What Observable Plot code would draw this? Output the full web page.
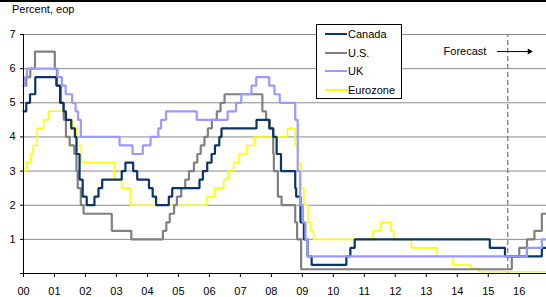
<!DOCTYPE html>
<html><head><meta charset="utf-8">
<script src="https://cdn.jsdelivr.net/npm/d3@7"></script>
<script src="https://cdn.jsdelivr.net/npm/@observablehq/plot@0.6"></script>
<style>
body{margin:0;background:#fff;font-family:"Liberation Sans",Arial,sans-serif;}
#wrap{position:relative;width:546px;height:297px;overflow:hidden;background:#fff;}
#topline{position:absolute;left:0;top:0;width:546px;height:2px;background:#000;}
#unit{position:absolute;left:12px;top:3px;font-size:11px;line-height:13px;color:#000;}
#legend{position:absolute;left:316px;top:24px;width:84px;height:73px;border:1px solid #000;background:#fff;font-size:11px;color:#000;}
#legend .row{position:absolute;left:0;height:18px;line-height:18px;white-space:nowrap;}
#legend .sw{display:inline-block;width:22px;height:0;border-top:2px solid;vertical-align:middle;margin:0 1px 0 8px;position:relative;top:-1px;}
#chart{position:absolute;left:0;top:0;}
</style></head>
<body>
<div id="wrap">
  <div id="chart"></div>
  <div id="topline"></div>
  <div id="unit">Percent, eop</div>
  <div id="legend"></div>
</div>
<script>
// ---- data: policy rates, change dates (decimal years) and levels ----
const canadaDates = [2000.00,2000.09,2000.21,2000.38,2001.06,2001.18,2001.29,2001.37,2001.54,2001.66,2001.71,2001.81,2001.91,2002.04,2002.29,2002.42,2002.54,2003.17,2003.29,2003.54,2003.67,2004.05,2004.17,2004.28,2004.69,2004.80,2005.68,2005.79,2005.93,2006.07,2006.18,2006.32,2006.39,2007.52,2007.93,2008.06,2008.17,2008.31,2008.77,2008.80,2008.94,2009.05,2009.17,2009.30,2010.42,2010.55,2010.69,2015.05,2015.54,2016.73];
const canadaRates = [4.75,5.00,5.25,5.75,5.50,5.00,4.75,4.50,4.25,4.00,3.50,2.75,2.25,2.00,2.25,2.50,2.75,3.00,3.25,3.00,2.75,2.50,2.25,2.00,2.25,2.50,2.75,3.00,3.25,3.50,3.75,4.00,4.25,4.50,4.25,4.00,3.50,3.00,2.50,2.25,1.50,1.00,0.50,0.25,0.50,0.75,1.00,0.75,0.50,0.75];

const usDates = [2000.00,2000.09,2000.22,2000.37,2001.01,2001.08,2001.21,2001.30,2001.37,2001.49,2001.64,2001.71,2001.75,2001.85,2001.94,2002.85,2003.48,2004.50,2004.61,2004.72,2004.86,2004.95,2005.09,2005.22,2005.34,2005.50,2005.61,2005.72,2005.84,2005.95,2006.08,2006.24,2006.36,2006.49,2007.71,2007.83,2007.95,2008.06,2008.08,2008.21,2008.33,2008.77,2008.83,2008.96,2015.76,2016.00,2016.25,2016.49,2016.73];
const usRates = [5.50,5.75,6.00,6.50,6.00,5.50,5.00,4.50,4.00,3.75,3.50,3.00,2.50,2.00,1.75,1.25,1.00,1.25,1.50,1.75,2.00,2.25,2.50,2.75,3.00,3.25,3.50,3.75,4.00,4.25,4.50,4.75,5.00,5.25,4.75,4.50,4.25,3.50,3.00,2.25,2.00,1.50,1.00,0.125,0.50,0.75,1.00,1.25,1.75];

const ukDates = [2000.00,2000.04,2000.11,2001.10,2001.24,2001.36,2001.57,2001.68,2001.76,2001.85,2003.10,2003.52,2003.85,2004.10,2004.35,2004.44,2004.60,2005.59,2006.59,2006.86,2007.03,2007.36,2007.51,2007.93,2008.10,2008.27,2008.77,2008.85,2008.93,2009.02,2009.10,2009.17,2016.25,2016.73];
const ukRates = [5.50,5.75,6.00,5.75,5.50,5.25,5.00,4.75,4.50,4.00,3.75,3.50,3.75,4.00,4.25,4.50,4.75,4.50,4.75,5.00,5.25,5.50,5.75,5.50,5.25,5.00,4.50,3.00,2.00,1.50,1.00,0.50,0.75,1.00];

const euroDates = [2000.00,2000.10,2000.23,2000.31,2000.44,2000.65,2000.80,2001.30,2001.58,2001.72,2001.87,2002.93,2003.17,2003.44,2005.92,2006.17,2006.46,2006.61,2006.78,2006.95,2007.20,2007.45,2008.52,2008.77,2008.86,2008.94,2009.05,2009.18,2009.26,2009.36,2011.28,2011.52,2011.86,2011.95,2012.52,2013.35,2013.86,2014.45,2014.69];
const euroRates = [3.00,3.25,3.50,3.75,4.25,4.50,4.75,4.50,4.25,3.75,3.25,2.75,2.50,2.00,2.25,2.50,2.75,3.00,3.25,3.50,3.75,4.00,4.25,3.75,3.25,2.50,2.00,1.50,1.25,1.00,1.25,1.50,1.25,1.00,0.75,0.50,0.25,0.15,0.05];

const seriesNames = ["Canada","U.S.","UK","Eurozone"];
const seriesColors = ["#0b3566","#808080","#9999ff","#ffff00"];
const seriesWidths = [2.2,2.2,2.2,1.6];

const xStart = 2000, xEnd = 2016.88;
const xTickYears = d3.range(2000, 2017);
const yTicks = [0,1,2,3,4,5,6,7];
const gridValues = [1,2,3,4,5,6,7];

const forecastStart = 2015.63;
const forecastLabel = [{x: 2014.94, y: 6.5, text: "Forecast"}];
const forecastArrow = [{x1: 2015.28, x2: 2016.33, y: 6.5}];

// ---- build table ----
function build(name, dates, rates){
  const rows = dates.map((d,i)=>({series:name, date:d, rate:rates[i]}));
  rows.push({series:name, date:xEnd, rate:rates[rates.length-1]});
  return rows;
}
const tables = {
  "Canada": build("Canada", canadaDates, canadaRates),
  "U.S.": build("U.S.", usDates, usRates),
  "UK": build("UK", ukDates, ukRates),
  "Eurozone": build("Eurozone", euroDates, euroRates)
};
const idx = n => seriesNames.indexOf(n);
const lineMark = n => Plot.line(tables[n], {x:"date", y:"rate", curve:"step-after",
  stroke: seriesColors[idx(n)], strokeWidth: seriesWidths[idx(n)], strokeLinejoin:"miter"});

const chart = Plot.plot({
  width:546, height:297,
  marginLeft:23, marginRight:0, marginTop:34, marginBottom:24,
  style:{fontFamily:"'Liberation Sans', Arial, sans-serif", fontSize:"11px", color:"#000", background:"transparent", overflow:"visible"},
  x:{type:"linear", domain:[xStart, xEnd]},
  y:{domain:[0,7]},
  marks:[
    Plot.ruleY(gridValues, {stroke:"#8a8a8a", strokeWidth:1}),
    Plot.ruleX([forecastStart], {y1:0, y2:7, stroke:"#808080", strokeWidth:1.3, strokeDasharray:"5,3", strokeDashoffset:-4}),
    lineMark("Eurozone"),
    lineMark("U.S."),
    lineMark("Canada"),
    lineMark("UK"),
    Plot.ruleY([0], {stroke:"#000", strokeWidth:1}),
    Plot.ruleX([xStart], {y1:0, y2:7, stroke:"#000", strokeWidth:1}),
    Plot.axisY(yTicks, {tickSize:3, tickPadding:5, tickFormat:d => d === 0 ? "" : String(d), label:null, fontSize:11, stroke:"#000"}),
    Plot.axisX(xTickYears, {tickSize:4, tickPadding:10, tickFormat:d => String(d % 100).padStart(2,"0"), label:null, fontSize:11, stroke:"#000"}),
    Plot.text(forecastLabel, {x:"x", y:"y", text:"text", textAnchor:"end", fontSize:11, fill:"#000"}),
    Plot.link(forecastArrow, {x1:"x1", x2:"x2", y1:"y", y2:"y", stroke:"#000", strokeWidth:1}),
    Plot.dot(forecastArrow, {x:"x2", y:"y", symbol:"triangle", r:2.2, rotate:90, fill:"#000", stroke:null})
  ]
});
document.getElementById("chart").appendChild(chart);

// ---- legend ----
const legend = document.getElementById("legend");
seriesNames.forEach((n,i)=>{
  const row = document.createElement("div");
  row.className = "row";
  row.style.top = (i*18.5) + "px";
  row.innerHTML = `<span class="sw" style="border-color:${seriesColors[i]}"></span>${n}`;
  legend.appendChild(row);
});
</script>
</body></html>
